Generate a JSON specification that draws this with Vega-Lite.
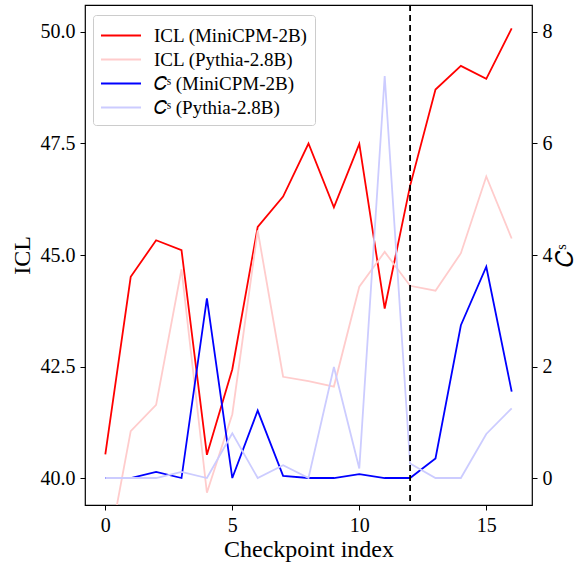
{
  "$schema": "https://vega.github.io/schema/vega-lite/v6.json",
  "width": 447,
  "height": 500,
  "autosize": {"type": "none"},
  "padding": {"left": 85, "top": 5, "right": 46, "bottom": 58},
  "config": {
    "font": "Liberation Serif",
    "view": {"stroke": "black", "strokeWidth": 1.2},
    "axis": {"grid": false, "domain": false, "tickColor": "black", "tickSize": 5, "tickWidth": 1, "labelFont": "Liberation Serif", "labelFontSize": 20, "labelColor": "black", "titleFont": "Liberation Serif", "titleFontSize": 24, "titleFontWeight": "normal", "titleColor": "black", "labelPadding": 4}
  },
  "datasets": {
    "lines": [
      {"i": 0, "series": "ICL (MiniCPM-2B)", "axis": "ICL", "value": 40.53},
      {"i": 1, "series": "ICL (MiniCPM-2B)", "axis": "ICL", "value": 44.51},
      {"i": 2, "series": "ICL (MiniCPM-2B)", "axis": "ICL", "value": 45.33},
      {"i": 3, "series": "ICL (MiniCPM-2B)", "axis": "ICL", "value": 45.11},
      {"i": 4, "series": "ICL (MiniCPM-2B)", "axis": "ICL", "value": 40.52},
      {"i": 5, "series": "ICL (MiniCPM-2B)", "axis": "ICL", "value": 42.44},
      {"i": 6, "series": "ICL (MiniCPM-2B)", "axis": "ICL", "value": 45.63},
      {"i": 7, "series": "ICL (MiniCPM-2B)", "axis": "ICL", "value": 46.31},
      {"i": 8, "series": "ICL (MiniCPM-2B)", "axis": "ICL", "value": 47.5},
      {"i": 9, "series": "ICL (MiniCPM-2B)", "axis": "ICL", "value": 46.07},
      {"i": 10, "series": "ICL (MiniCPM-2B)", "axis": "ICL", "value": 47.49},
      {"i": 11, "series": "ICL (MiniCPM-2B)", "axis": "ICL", "value": 43.8},
      {"i": 12, "series": "ICL (MiniCPM-2B)", "axis": "ICL", "value": 46.55},
      {"i": 13, "series": "ICL (MiniCPM-2B)", "axis": "ICL", "value": 48.71},
      {"i": 14, "series": "ICL (MiniCPM-2B)", "axis": "ICL", "value": 49.24},
      {"i": 15, "series": "ICL (MiniCPM-2B)", "axis": "ICL", "value": 48.95},
      {"i": 16, "series": "ICL (MiniCPM-2B)", "axis": "ICL", "value": 50.08},
      {"i": 0, "series": "ICL (Pythia-2.8B)", "axis": "ICL", "value": 38.0},
      {"i": 1, "series": "ICL (Pythia-2.8B)", "axis": "ICL", "value": 41.05},
      {"i": 2, "series": "ICL (Pythia-2.8B)", "axis": "ICL", "value": 41.64},
      {"i": 3, "series": "ICL (Pythia-2.8B)", "axis": "ICL", "value": 44.68},
      {"i": 4, "series": "ICL (Pythia-2.8B)", "axis": "ICL", "value": 39.67},
      {"i": 5, "series": "ICL (Pythia-2.8B)", "axis": "ICL", "value": 41.43},
      {"i": 6, "series": "ICL (Pythia-2.8B)", "axis": "ICL", "value": 45.55},
      {"i": 7, "series": "ICL (Pythia-2.8B)", "axis": "ICL", "value": 42.27},
      {"i": 8, "series": "ICL (Pythia-2.8B)", "axis": "ICL", "value": 42.17},
      {"i": 9, "series": "ICL (Pythia-2.8B)", "axis": "ICL", "value": 42.05},
      {"i": 10, "series": "ICL (Pythia-2.8B)", "axis": "ICL", "value": 44.29},
      {"i": 11, "series": "ICL (Pythia-2.8B)", "axis": "ICL", "value": 45.07},
      {"i": 12, "series": "ICL (Pythia-2.8B)", "axis": "ICL", "value": 44.31},
      {"i": 13, "series": "ICL (Pythia-2.8B)", "axis": "ICL", "value": 44.2},
      {"i": 14, "series": "ICL (Pythia-2.8B)", "axis": "ICL", "value": 45.04},
      {"i": 15, "series": "ICL (Pythia-2.8B)", "axis": "ICL", "value": 46.76},
      {"i": 16, "series": "ICL (Pythia-2.8B)", "axis": "ICL", "value": 45.37},
      {"i": 0, "series": "𝐶ˢ (MiniCPM-2B)", "axis": "Cs", "value": 0},
      {"i": 1, "series": "𝐶ˢ (MiniCPM-2B)", "axis": "Cs", "value": 0},
      {"i": 2, "series": "𝐶ˢ (MiniCPM-2B)", "axis": "Cs", "value": 0.11},
      {"i": 3, "series": "𝐶ˢ (MiniCPM-2B)", "axis": "Cs", "value": 0},
      {"i": 4, "series": "𝐶ˢ (MiniCPM-2B)", "axis": "Cs", "value": 3.22},
      {"i": 5, "series": "𝐶ˢ (MiniCPM-2B)", "axis": "Cs", "value": 0},
      {"i": 6, "series": "𝐶ˢ (MiniCPM-2B)", "axis": "Cs", "value": 1.21},
      {"i": 7, "series": "𝐶ˢ (MiniCPM-2B)", "axis": "Cs", "value": 0.04},
      {"i": 8, "series": "𝐶ˢ (MiniCPM-2B)", "axis": "Cs", "value": 0},
      {"i": 9, "series": "𝐶ˢ (MiniCPM-2B)", "axis": "Cs", "value": 0},
      {"i": 10, "series": "𝐶ˢ (MiniCPM-2B)", "axis": "Cs", "value": 0.07},
      {"i": 11, "series": "𝐶ˢ (MiniCPM-2B)", "axis": "Cs", "value": 0},
      {"i": 12, "series": "𝐶ˢ (MiniCPM-2B)", "axis": "Cs", "value": 0},
      {"i": 13, "series": "𝐶ˢ (MiniCPM-2B)", "axis": "Cs", "value": 0.35},
      {"i": 14, "series": "𝐶ˢ (MiniCPM-2B)", "axis": "Cs", "value": 2.74},
      {"i": 15, "series": "𝐶ˢ (MiniCPM-2B)", "axis": "Cs", "value": 3.79},
      {"i": 16, "series": "𝐶ˢ (MiniCPM-2B)", "axis": "Cs", "value": 1.55},
      {"i": 0, "series": "𝐶ˢ (Pythia-2.8B)", "axis": "Cs", "value": 0},
      {"i": 1, "series": "𝐶ˢ (Pythia-2.8B)", "axis": "Cs", "value": 0},
      {"i": 2, "series": "𝐶ˢ (Pythia-2.8B)", "axis": "Cs", "value": 0},
      {"i": 3, "series": "𝐶ˢ (Pythia-2.8B)", "axis": "Cs", "value": 0.11},
      {"i": 4, "series": "𝐶ˢ (Pythia-2.8B)", "axis": "Cs", "value": 0},
      {"i": 5, "series": "𝐶ˢ (Pythia-2.8B)", "axis": "Cs", "value": 0.8},
      {"i": 6, "series": "𝐶ˢ (Pythia-2.8B)", "axis": "Cs", "value": 0},
      {"i": 7, "series": "𝐶ˢ (Pythia-2.8B)", "axis": "Cs", "value": 0.23},
      {"i": 8, "series": "𝐶ˢ (Pythia-2.8B)", "axis": "Cs", "value": 0},
      {"i": 9, "series": "𝐶ˢ (Pythia-2.8B)", "axis": "Cs", "value": 1.99},
      {"i": 10, "series": "𝐶ˢ (Pythia-2.8B)", "axis": "Cs", "value": 0.17},
      {"i": 11, "series": "𝐶ˢ (Pythia-2.8B)", "axis": "Cs", "value": 7.21},
      {"i": 12, "series": "𝐶ˢ (Pythia-2.8B)", "axis": "Cs", "value": 0.26},
      {"i": 13, "series": "𝐶ˢ (Pythia-2.8B)", "axis": "Cs", "value": 0},
      {"i": 14, "series": "𝐶ˢ (Pythia-2.8B)", "axis": "Cs", "value": 0},
      {"i": 15, "series": "𝐶ˢ (Pythia-2.8B)", "axis": "Cs", "value": 0.79},
      {"i": 16, "series": "𝐶ˢ (Pythia-2.8B)", "axis": "Cs", "value": 1.25}
    ],
    "marker": [{"i": 12}]
  },
  "layer": [
    {
      "data": {"name": "lines"},
      "transform": [{"filter": "datum.axis === 'ICL'"}],
      "mark": {"type": "line", "strokeWidth": 1.8, "clip": true},
      "encoding": {
        "x": {"field": "i", "type": "quantitative", "scale": {"domain": [-0.8, 16.8], "nice": false, "zero": false}, "axis": {"values": [0, 5, 10, 15], "title": "Checkpoint index", "titlePadding": 2, "labelPadding": 5}},
        "y": {"field": "value", "type": "quantitative", "scale": {"domain": [39.395, 50.605], "nice": false, "zero": false}, "axis": {"values": [40, 42.5, 45, 47.5, 50], "format": ".1f", "title": "ICL", "orient": "left", "titlePadding": 6, "labelPadding": 5}},
        "color": {
          "field": "series", "type": "nominal",
          "scale": {"domain": ["ICL (MiniCPM-2B)", "ICL (Pythia-2.8B)", "𝐶ˢ (MiniCPM-2B)", "𝐶ˢ (Pythia-2.8B)"], "range": ["#ff0000", "#ffcccc", "#0000ff", "#ccccff"]},
          "legend": {"title": null, "orient": "none", "legendX": 8, "legendY": 10, "symbolType": "M-1,0H2.2", "symbolSize": 625, "symbolStrokeWidth": 2, "labelFontSize": 19, "labelFont": "Liberation Serif", "labelColor": "black", "rowPadding": 0, "labelOffset": 27, "padding": 7, "strokeColor": "#cccccc", "fillColor": "rgba(255,255,255,0.8)", "cornerRadius": 3}
        },
        "order": {"field": "i", "type": "quantitative"}
      }
    },
    {
      "data": {"name": "lines"},
      "transform": [{"filter": "datum.axis === 'Cs'"}],
      "mark": {"type": "line", "strokeWidth": 1.8, "clip": true},
      "encoding": {
        "x": {"field": "i", "type": "quantitative"},
        "y": {"field": "value", "type": "quantitative", "scale": {"domain": [-0.484, 8.484], "nice": false, "zero": false}, "axis": {"values": [0, 2, 4, 6, 8], "title": "𝐶ˢ", "orient": "right", "titlePadding": 1, "labelPadding": 5, "titleAngle": 270, "titleBaseline": "top"}},
        "color": {"field": "series", "type": "nominal"},
        "order": {"field": "i", "type": "quantitative"}
      }
    },
    {
      "data": {"name": "marker"},
      "mark": {"type": "rule", "color": "black", "strokeDash": [6, 4], "strokeWidth": 1.8},
      "encoding": {"x": {"field": "i", "type": "quantitative"}}
    }
  ],
  "resolve": {"scale": {"y": "independent"}}
}
